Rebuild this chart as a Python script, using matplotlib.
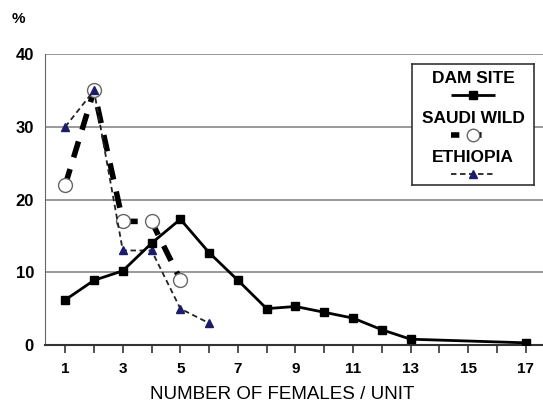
import matplotlib.pyplot as plt
from matplotlib.lines import Line2D

plt.rcParams['font.family'] = ['Liberation Sans', 'DejaVu Sans']

# Data
dam_x = [1, 2, 3, 4, 5, 6, 7, 8, 9, 10, 11, 12, 13, 17]
dam_y = [6.2, 8.9, 10.2, 14.0, 17.3, 12.7, 8.9, 5.0, 5.3, 4.5, 3.7, 2.1, 0.8, 0.3]

saudi_x = [1, 2, 3, 4, 5]
saudi_y = [22, 35, 17, 17, 9]

eth_x = [1, 2, 3, 4, 5, 6]
eth_y = [30, 35, 13, 13, 5, 3]

xticks = list(range(1, 18))
xticklabels = [str(v) if v % 2 == 1 else '' for v in xticks]
yticks = [0, 10, 20, 30, 40]

fig = plt.figure(figsize=(5.43, 4.04), dpi=100)
ax = fig.add_axes([0.083, 0.146, 0.917, 0.72])

# Series
ax.plot(saudi_x, saudi_y, color='black', linewidth=4, dashes=(3, 2.2),
        marker='o', markersize=10, markerfacecolor='white',
        markeredgecolor='#666666', markeredgewidth=1, zorder=3)
ax.plot(eth_x, eth_y, color='#222222', linewidth=1.3, dashes=(3, 2),
        marker='^', markersize=6, markerfacecolor='#1c1c6b',
        markeredgecolor='#1c1c6b', zorder=4)
ax.plot(dam_x, dam_y, color='black', linewidth=2, marker='s',
        markersize=6, markerfacecolor='black', zorder=5)

ax.set_xlim(0.3, 17.6)
ax.set_ylim(0, 40)
ax.set_xticks(xticks)
ax.set_xticklabels(xticklabels, fontsize=11, fontweight='bold')
ax.set_yticks(yticks)
ax.set_yticklabels([str(v) for v in yticks], fontsize=12, fontweight='bold')
ax.tick_params(axis='x', direction='out', length=6, width=1.2, color='#333333', pad=6)
ax.tick_params(axis='y', length=0, pad=8)

ax.grid(axis='y', color='#888888', linewidth=1.2)
ax.set_axisbelow(True)
for s in ['top', 'right']:
    ax.spines[s].set_visible(False)
ax.spines['left'].set_color('#666666')
ax.spines['bottom'].set_color('#333333')
ax.spines['bottom'].set_linewidth(1.5)

ax.set_xlabel('NUMBER OF FEMALES / UNIT', fontsize=13.5)
ax.xaxis.set_label_coords(0.476, -0.142)
fig.text(0.022, 0.952, '%', fontsize=11, fontweight='bold', va='center')

# Legend box with labels above sample lines
lax = fig.add_axes([412 / 543, 1 - 185 / 404, 122 / 543, 121 / 404])
lax.set_xlim(0, 1)
lax.set_ylim(0, 1)
lax.set_xticks([])
lax.set_yticks([])
for s in lax.spines.values():
    s.set_color('#333333')
    s.set_linewidth(1.2)
labels = ['DAM SITE', 'SAUDI WILD', 'ETHIOPIA']
ys = [0.80, 0.47, 0.15]
for lab, yy in zip(labels, ys):
    lax.text(0.5, yy + 0.08, lab, ha='center', va='center', fontsize=12.5, fontweight='bold')
lax.add_line(Line2D([0.32, 0.5, 0.68], [0.80 - 0.06] * 3, color='black', linewidth=2,
                    marker='s', markersize=6, markevery=[1], solid_capstyle='butt'))
lax.add_line(Line2D([0.32, 0.5, 0.68], [0.47 - 0.06] * 3, color='black', linewidth=4,
                    dashes=(1.5, 2.5), marker='o', markersize=9, markevery=[1],
                    markerfacecolor='white', markeredgecolor='#666666'))
lax.add_line(Line2D([0.32, 0.5, 0.68], [0.15 - 0.06] * 3, color='#222222', linewidth=1.3,
                    dashes=(3, 2), marker='^', markersize=6, markevery=[1],
                    markerfacecolor='#1c1c6b', markeredgecolor='#1c1c6b'))

fig.savefig('out.png', dpi=100)
